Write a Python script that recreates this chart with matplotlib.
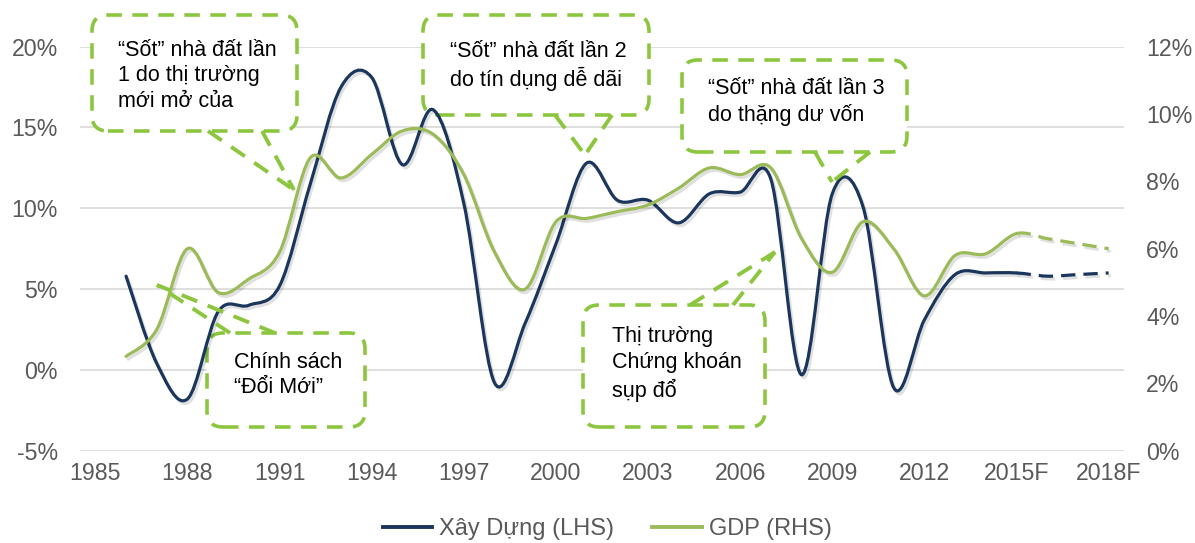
import matplotlib
matplotlib.use("Agg")
import matplotlib.pyplot as plt
import matplotlib.patheffects as pe
from matplotlib.path import Path
from matplotlib.patches import PathPatch, FancyBboxPatch
from matplotlib.lines import Line2D
from matplotlib.transforms import IdentityTransform

plt.rcParams['font.family'] = ['Liberation Sans', 'DejaVu Sans']

# data
years = list(range(1986, 2019))
xay_dung = [5.8, 0.4, -1.8, 3.6, 4.0, 5.2, 11.5, 17.5, 18.1, 12.7, 16.1, 10.3, -0.8,
            2.9, 7.8, 12.8, 10.5, 10.5, 9.1, 10.9, 11.0, 11.8, -0.3, 10.9, 10.1, -1.1,
            3.1, 5.9, 6.0, 6.0, 5.8, 5.9, 6.0]
gdp = [2.8, 3.6, 6.0, 4.7, 5.1, 5.9, 8.7, 8.1, 8.8, 9.5, 9.4, 8.2, 5.9, 4.8, 6.8,
       6.9, 7.1, 7.3, 7.8, 8.4, 8.2, 8.4, 6.3, 5.3, 6.8, 6.0, 4.6, 5.8, 5.85, 6.45,
       6.3, 6.15, 6.0]
forecast_from = 2015
tick_years = list(range(1985, 2019, 3))
tick_labels = [str(y) for y in tick_years[:-2]] + ['2015F', '2018F']

NAVY = '#1b365d'
GREEN = '#9bbb59'
BOXG = '#8cc63f'
GREY = '#595959'


def smooth_path(x, y, i0, i1):
    # Excel-style smoothed line: cubic bezier through every point
    n = len(x)
    verts = [(x[i0], y[i0])]
    codes = [Path.MOVETO]
    for i in range(i0, i1):
        a = i - 1 if i > 0 else i
        b = i + 2 if i + 2 < n else i + 1
        c1 = (x[i] + (x[i + 1] - x[a]) / 6, y[i] + (y[i + 1] - y[a]) / 6)
        c2 = (x[i + 1] - (x[b] - x[i]) / 6, y[i + 1] - (y[b] - y[i]) / 6)
        verts += [c1, c2, (x[i + 1], y[i + 1])]
        codes += [Path.CURVE4] * 3
    return Path(verts, codes)


fig = plt.figure(figsize=(11.95, 5.43), dpi=100)
ax = fig.add_axes([80 / 1195, 1 - 450.7 / 543, 1044 / 1195, 404 / 543])
ax2 = ax.twinx()

shadow = [pe.SimpleLineShadow(offset=(1.5, -2), alpha=0.12, shadow_color='black'), pe.Normal()]
k = years.index(forecast_from)
for axis, vals, col in [(ax, xay_dung, NAVY), (ax2, gdp, GREEN)]:
    axis.add_patch(PathPatch(smooth_path(years, vals, 0, k), fill=False, ec=col,
                             lw=2.3, capstyle='round', zorder=3, path_effects=shadow))
    axis.add_patch(PathPatch(smooth_path(years, vals, k, len(years) - 1), fill=False,
                             ec=col, lw=2.3, ls=(0, (4.5, 2.5)), zorder=3,
                             path_effects=shadow))

ax.set_xlim(1984.5, 2018.5)
ax.set_ylim(-5, 20)
ax2.set_ylim(0, 12)
ax.set_yticks([-5, 0, 5, 10, 15, 20])
ax.set_yticklabels(['-5%', '0%', '5%', '10%', '15%', '20%'])
ax2.set_yticks([0, 2, 4, 6, 8, 10, 12])
ax2.set_yticklabels(['0%', '2%', '4%', '6%', '8%', '10%', '12%'])
ax.set_xticks(tick_years)
ax.set_xticklabels(tick_labels)
ax.grid(axis='y', color='#d9d9d9', lw=1.2)
ax.set_axisbelow(True)
for a in (ax, ax2):
    for s in a.spines.values():
        s.set_visible(False)
ax.tick_params(axis='y', length=0, pad=16, labelsize=16.7, labelcolor=GREY)
ax.tick_params(axis='x', length=0, pad=8, labelsize=16.7, labelcolor=GREY)
ax2.tick_params(axis='y', length=0, pad=16, labelsize=16.7, labelcolor=GREY)

# annotation boxes (pixel coordinates, y from top)
H = 543
boxes = [
    (92, 15, 297, 131, (118, 76), '“Sốt” nhà đất lần\n1 do thị trường\nmới mở của'),
    (423, 15, 649, 115, (450, 66), '“Sốt” nhà đất lần 2\ndo tín dụng dễ dãi'),
    (682, 60, 907, 152, (708, 102), '“Sốt” nhà đất lần 3\ndo thặng dư vốn'),
    (207, 333, 365, 427, (234, 375), 'Chính sách\n“Đổi Mới”'),
    (583, 305, 765, 427, (612, 364), 'Thị trường\nChứng khoán\nsụp đổ'),
]
dash = (0, (4.3, 2.9))
for x0, y0, x1, y1, (tx, ty), txt in boxes:
    ax.add_patch(FancyBboxPatch((x0, H - y1), x1 - x0, y1 - y0,
                                boxstyle='round,pad=0,rounding_size=16',
                                fc='white', ec=BOXG, lw=2.6, ls=dash,
                                transform=IdentityTransform(), clip_on=False, zorder=1.5))
    fig.text(tx / 1195, 1 - ty / H, txt, fontsize=15.5, va='center', ha='left',
             linespacing=1.3, color='black', zorder=5)

pointers = [
    ((208, 131), (262, 131), (294, 190)),
    ((555, 115), (612, 115), (585, 155)),
    ((815, 152), (870, 152), (832, 182)),
    ((275, 333), (230, 333), (157, 285)),
    ((690, 305), (733, 305), (775, 252)),
]
for p, q, tip in pointers:
    for base in (p, q):
        fig.add_artist(Line2D([base[0] / 1195, tip[0] / 1195],
                              [1 - base[1] / H, 1 - tip[1] / H],
                              color=BOXG, lw=2.8, ls=dash, zorder=4))

handles = [Line2D([], [], color=NAVY, lw=2.8), Line2D([], [], color=GREEN, lw=2.8)]
fig.legend(handles, ['Xây Dựng (LHS)', 'GDP (RHS)'], loc='center',
           bbox_to_anchor=(607 / 1195, 1 - 529 / H), ncol=2, frameon=False,
           fontsize=17, handlelength=2.1, handletextpad=0.3, columnspacing=1.6,
           labelcolor=GREY)

fig.savefig('out.png', dpi=100)
